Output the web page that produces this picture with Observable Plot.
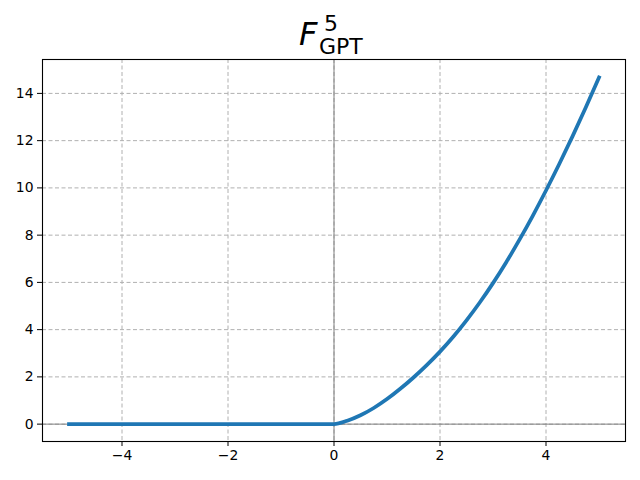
<!DOCTYPE html>
<html>
<head>
<meta charset="utf-8">
<script src="https://cdn.jsdelivr.net/npm/d3@7"></script>
<script src="https://cdn.jsdelivr.net/npm/@observablehq/plot@0.6"></script>
<style>
  body { margin: 0; background: white; }
  #title { position: relative; height: 50px; width: 640px; font-family: "DejaVu Sans"; color: black; }
  #title span { position: absolute; line-height: 1; white-space: nowrap; }
</style>
</head>
<body>
<div id="title">
  <span style="left:299px;top:18px;font-size:32px;font-style:italic">F</span>
  <span style="left:324px;top:13px;font-size:22px">5</span>
  <span style="left:319px;top:36px;font-size:22px">GPT</span>
</div>
<div id="chart"></div>
<script>
const xValues = [-5, -4, -3, -2, -1, 0, 0.25, 0.5, 0.75, 1, 1.25, 1.5, 1.75, 2, 2.25, 2.5, 2.75, 3, 3.25, 3.5, 3.75, 4, 4.25, 4.5, 4.75, 5];
const yValues = [0, 0, 0, 0, 0, 0, 0.144, 0.375, 0.683, 1.06, 1.496, 1.975, 2.498, 3.07, 3.70, 4.395, 5.15, 5.97, 6.856, 7.81, 8.82, 9.89, 11.01, 12.18, 13.40, 14.67];
const xTicks = [-4, -2, 0, 2, 4];
const yTicks = [0, 2, 4, 6, 8, 10, 12, 14];

const data = xValues.map((x, i) => ({x, y: yValues[i]}));
const fmt = d => d < 0 ? "\u2212" + Math.abs(d) : String(d);

const chart = Plot.plot({
  width: 640,
  height: 430,
  marginTop: 9,
  marginLeft: 42,
  marginRight: 15,
  marginBottom: 39,
  x: {domain: [-5.5, 5.5]},
  y: {domain: [-0.735, 15.435]},
  style: {fontFamily: "DejaVu Sans", fontSize: "13.9px", background: "white", color: "black"},
  marks: [
    Plot.gridX(xTicks, {stroke: "#b0b0b0", strokeOpacity: 1, strokeWidth: 1, strokeDasharray: "4,2.5"}),
    Plot.gridY(yTicks, {stroke: "#b0b0b0", strokeOpacity: 1, strokeWidth: 1, strokeDasharray: "4,2.5"}),
    Plot.ruleX([0], {stroke: "#808080", strokeWidth: 1}),
    Plot.ruleY([0], {stroke: "#808080", strokeWidth: 1}),
    Plot.line(data, {x: "x", y: "y", stroke: "#1f77b4", strokeWidth: 3.75, strokeLinecap: "square", curve: "monotone-x"}),
    Plot.frame({stroke: "black", strokeWidth: 1.1}),
    Plot.axisX(xTicks, {tickSize: 5, tickPadding: 4, tickFormat: fmt, label: null}),
    Plot.axisY(yTicks, {tickSize: 5, tickPadding: 4, tickFormat: fmt, label: null})
  ]
});
document.getElementById("chart").appendChild(chart);
</script>
</body>
</html>
